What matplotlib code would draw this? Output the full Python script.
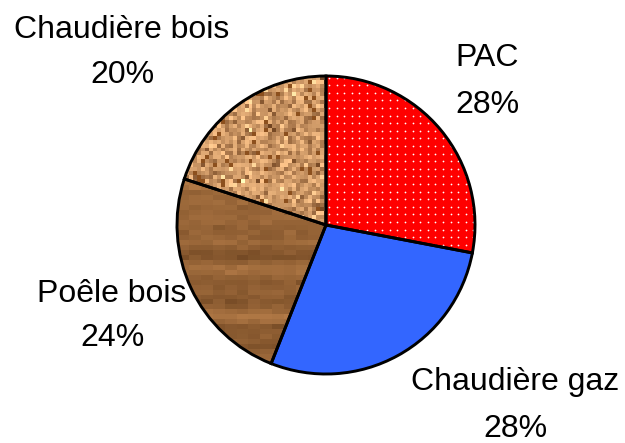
import numpy as np
import matplotlib.pyplot as plt

plt.rcParams['font.family'] = ['Liberation Sans', 'DejaVu Sans']

labels = ['PAC', 'Chaudière gaz', 'Poêle bois', 'Chaudière bois']
values = [28, 28, 24, 20]
colors = ['#ff0000', '#3366ff', '#9a6a3c', '#c89464']

W, H = 625, 443
cx, cy, r = 326, 443 - 225, 149

fig = plt.figure(figsize=(W / 100, H / 100), dpi=100)
ax = fig.add_axes([0, 0, 1, 1])

wedges, _ = ax.pie(values, colors=colors, startangle=90, counterclock=False,
                   center=(cx, cy), radius=r, wedgeprops=dict(linewidth=0))
ax.set_xlim(0, W)
ax.set_ylim(0, H)
ax.set_aspect('equal')
ax.axis('off')

# dotted pattern on PAC
xs = np.arange(cx - r, cx + r, 7.6)
ys = np.arange(cy - r, cy + r, 7.6)
gx, gy = np.meshgrid(xs, ys)
dots = ax.scatter(gx.ravel(), gy.ravel(), s=1.6, color='white', linewidths=0, zorder=2)
dots.set_clip_path(wedges[0])

# wood textures (decoration only)
rng = np.random.default_rng(3)
ext = [cx - r, cx + r, cy - r, cy + r]

# speckled wood for Chaudière bois
n = 75
base = np.array([205, 152, 102]) / 255
noise = rng.normal(0, 1, (n, n))
speck = base[None, None, :] + noise[..., None] * np.array([0.12, 0.11, 0.09])
dark = rng.random((n, n)) < 0.06
speck[dark] = np.array([140, 80, 30]) / 255
img1 = ax.imshow(np.clip(speck, 0, 1), extent=ext, interpolation='nearest', zorder=2)
img1.set_clip_path(wedges[3])

# banded wood for Poêle bois
rows, cols = 60, 25
band = rng.normal(0, 1, rows)
band = np.convolve(band, [0.3, 0.4, 0.3], mode='same')
tone = band[:, None] + rng.normal(0, 0.25, (rows, cols))
base2 = np.array([150, 100, 55]) / 255
wood = base2[None, None, :] + tone[..., None] * np.array([0.09, 0.07, 0.05])
img2 = ax.imshow(np.clip(wood, 0, 1), extent=ext, interpolation='nearest', zorder=2, aspect='auto')
img2.set_clip_path(wedges[2])
ax.set_aspect('equal')

# outlines
ax.pie(values, startangle=90, counterclock=False, center=(cx, cy), radius=r,
       wedgeprops=dict(facecolor='none', edgecolor='black', linewidth=2.1, zorder=3))
ax.set_xlim(0, W)
ax.set_ylim(0, H)
ax.axis('off')

# label centre x and baselines (pixels from top) for name and percent lines
label_pos = [(487, 66, 112.5), (515, 390, 437), (112, 301.5, 345.5), (122, 37.5, 83)]
for lab, v, (x, y1, y2) in zip(labels, values, label_pos):
    ax.text(x, H - y1, lab, ha='center', va='baseline', fontsize=23)
    ax.text(x, H - y2, f'{v}%', ha='center', va='baseline', fontsize=23)

fig.savefig('out.png', dpi=100)
